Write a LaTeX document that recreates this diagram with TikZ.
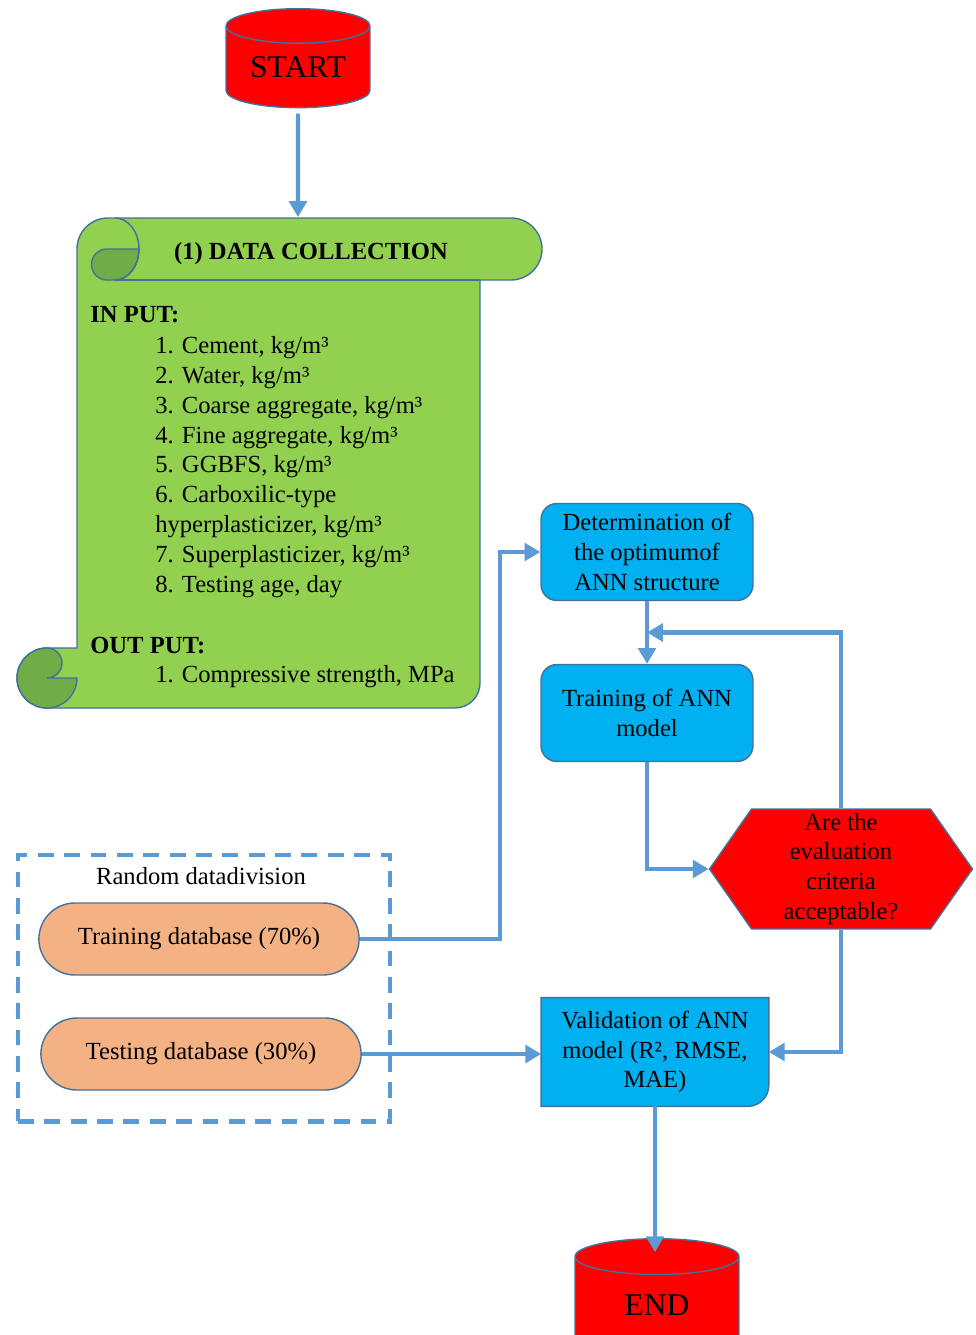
\documentclass[tikz,border=0pt]{standalone}
\usepackage{fontspec}
\setmainfont{Liberation Serif}
\usetikzlibrary{positioning,calc,arrows.meta,backgrounds}
\usetikzlibrary{shapes.geometric,shapes.symbols,shapes.misc}

\definecolor{scrollgreen}{RGB}{146,208,80}
\definecolor{curlgreen}{RGB}{112,173,71}
\definecolor{edgeblue}{RGB}{65,113,156}
\definecolor{boxcyan}{RGB}{0,176,240}
\definecolor{dbpeach}{RGB}{244,177,131}
\definecolor{flowblue}{RGB}{91,155,213}

\begin{document}
\begin{tikzpicture}[x=0.02cm,y=-0.02cm,
        every node/.style={font=\fontsize{14}{17}\selectfont},
        term/.style={cylinder, shape border rotate=90, draw=edgeblue, fill=red,
            line width=0.8pt, inner sep=0pt, anchor=north, font=\fontsize{18}{20}\selectfont},
        procbox/.style={rectangle, rounded corners=9pt, draw=edgeblue, fill=boxcyan, line width=0.8pt,
            align=center, inner sep=0pt, minimum width=4.24cm, minimum height=1.94cm},
        dbnode/.style={rounded rectangle, draw=edgeblue, fill=dbpeach, line width=0.8pt,
            minimum width=6.64cm, minimum height=1.44cm},
        scrolledge/.style={draw=edgeblue, line width=0.8pt},
        flow/.style={draw=flowblue, line width=2.3pt, -{Triangle[length=9pt,width=10pt]}}]
    \useasboundingbox (0,0) rectangle (975,1335);
    \clip (0,0) rectangle (975,1335);

    % data collection scroll
    \path[scrolledge, fill=scrollgreen]
        (77,648) -- (77,249) arc[start angle=180, end angle=270, radius=31]
        -- (511,218) arc[start angle=-90, end angle=90, radius=31]
        -- (480,280) -- (480,683) arc[start angle=0, end angle=90, radius=25]
        -- (47,708) arc[start angle=90, end angle=270, radius=30] -- cycle;
    \draw[scrolledge] (115,280) -- (480,280);
    \path[scrolledge, fill=curlgreen] (139,249) -- (107,249)
        arc[start angle=-90, end angle=-270, radius=15.5]
        -- (115,280) arc[start angle=90, end angle=0, x radius=24, y radius=31] -- cycle;
    \draw[scrolledge] (115,280) arc[start angle=90, end angle=-90, x radius=24, y radius=31];
    \path[scrolledge, fill=curlgreen] (47,648) arc[start angle=270, end angle=0, radius=30]
        -- (47,678) arc[start angle=90, end angle=-90, radius=15] -- cycle;

    \node[font=\fontsize{14}{17}\selectfont\bfseries] (title) at (311,254) {(1) DATA COLLECTION};
    \node[anchor=west, inner sep=0pt, font=\fontsize{14}{17}\selectfont\bfseries] (inhead) at (90,315) {IN PUT:};
    \node[anchor=north west, align=left, inner sep=0pt] (inlist) at (155,336) {%
        1. Cement, kg/m³\\
        2. Water, kg/m³\\
        3. Coarse aggregate, kg/m³\\
        4. Fine aggregate, kg/m³\\
        5. GGBFS, kg/m³\\
        6. Carboxilic-type\\
        hyperplasticizer, kg/m³\\
        7. Superplasticizer, kg/m³\\
        8. Testing age, day};
    \node[anchor=west, inner sep=0pt, font=\fontsize{14}{17}\selectfont\bfseries] (outhead) at (90,646) {OUT PUT:};
    \node[anchor=west, inner sep=0pt] (outlist) at (155,677) {1. Compressive strength, MPa};

    % flow chart
    \node[term, aspect=0.36, minimum width=2.88cm, minimum height=1.98cm] (start) at (298,8) {START};
    \node[term, aspect=0.55, minimum width=3.28cm, minimum height=2.3cm] (end) at (657,1238) {END};

    \node[procbox] (determ) at (647,552) {Determination of\\the optimumof\\ANN structure};
    \node[procbox] (train) at (647,713) {Training of ANN\\model};
    \node[signal, signal to=west and east, signal pointer angle=110, draw=edgeblue, fill=red,
        line width=0.8pt, inner sep=0pt, align=center, minimum width=5.26cm, minimum height=2.4cm]
        (check) at (841,869) {Are the\\evaluation\\criteria\\acceptable?};
    \node[align=center, inner sep=0pt, minimum width=4.54cm, minimum height=2.16cm] (valid) at (655,1052)
        {Validation of ANN\\model (R², RMSE,\\MAE)};
    \begin{scope}[on background layer]
        \draw[edgeblue, fill=boxcyan, line width=0.8pt] (valid.north west) -- (valid.north east)
            [rounded corners=12pt] -- (valid.south east) [sharp corners] -- (valid.south west) -- cycle;
    \end{scope}

    \node[draw=flowblue, dash pattern=on 9pt off 6pt, line width=2.3pt,
        minimum width=7.44cm, minimum height=5.34cm] (divbox) at (204,988) {};
    \node (divlabel) at (201,876) {Random datadivision};
    \node[dbnode] (traindb) at (199,939) {Training database (70\%)};
    \node[dbnode] (testdb) at (201,1054) {Testing database (30\%)};

    % connectors
    \coordinate (datatop) at (298,217);
    \coordinate (bend) at (500,939);
    \coordinate (loopin) at ($(determ.south)!0.5!(train.north)$);
    \draw[flow, shorten <=3pt] (start.south) -- (datatop);
    \draw[flow] (traindb.east) -- (bend) |- (determ.west);
    \draw[flow] (determ.south) -- (train.north);
    \draw[flow] (train.south) |- (check.west);
    \draw[flow] (check.north) |- (loopin);
    \draw[flow] (check.south) |- (valid.east);
    \draw[flow] (testdb.east) -- (testdb.east -| valid.west);
    \draw[flow, shorten >=-8pt] (valid.south) -- (valid.south |- end.north);
\end{tikzpicture}
\end{document}
